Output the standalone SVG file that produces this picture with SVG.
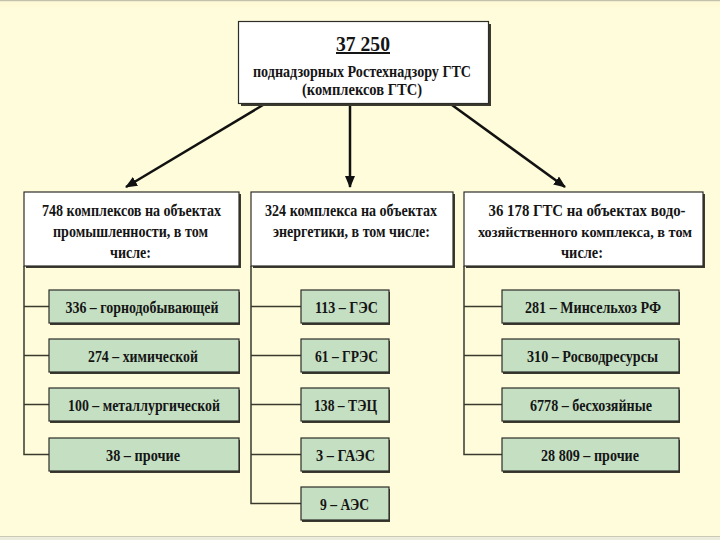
<svg xmlns="http://www.w3.org/2000/svg" width="720" height="540" viewBox="0 0 720 540">
<defs>
<marker id="ah" viewBox="0 0 12 10" refX="11" refY="5" markerWidth="12" markerHeight="10" markerUnits="userSpaceOnUse" orient="auto">
<path d="M0,0 L12,5 L0,10 z" fill="#111"/>
</marker>
</defs>
<style>
text{font-family:"Liberation Serif","Times New Roman",serif;font-weight:bold;fill:#151515;text-anchor:middle}
.hd{font-size:16.5px}
.gl{font-size:17px}
.shadow{fill:#3a3a30}
.wbox{fill:#ffffff;stroke:#2e2e28;stroke-width:1.2}
.gbox{fill:#c4dfc2;stroke:#2e2e28;stroke-width:1.2}
.conn{stroke:#3a3a2c;stroke-width:1.5;fill:none}
.arrow{stroke:#111;stroke-width:2.5;fill:none;marker-end:url(#ah)}
</style>
<rect x="0" y="0" width="720" height="540" fill="#fffcdc"/>
<rect x="0" y="0" width="720" height="1.5" fill="#c2c2ac"/>
<rect x="0" y="1.5" width="720" height="5" fill="#fffad6"/>
<rect x="0" y="536" width="720" height="1.2" fill="#c9c9b6"/>
<rect x="0" y="537.2" width="720" height="3" fill="#ececdc"/>

<g id="connectors">
<path class="arrow" d="M263,105 L126,187"/>
<path class="arrow" d="M350,105 L350,187"/>
<path class="arrow" d="M452,105 L565,187"/>
<path class="conn" d="M24,266 V454.5 H49 M24,306.5 H49 M24,355.5 H49 M24,404.5 H49"/>
<path class="conn" d="M251,266 V503.5 H301 M251,306.5 H301 M251,355.5 H301 M251,404.5 H301 M251,454.5 H301"/>
<path class="conn" d="M464,266 V454.5 H502 M464,306.5 H502 M464,355.5 H502 M464,404.5 H502"/>
</g>

<g id="top">
<rect class="shadow" x="241" y="24" width="250" height="82"/>
<rect class="wbox" x="238.5" y="21.5" width="250" height="82"/>
<text x="363" y="51" style="font-size:20px;text-decoration:underline" textLength="54" lengthAdjust="spacingAndGlyphs">37 250</text>
<text x="362" y="77" style="font-size:16px" textLength="218" lengthAdjust="spacingAndGlyphs">поднадзорных Ростехнадзору ГТС</text>
<text x="362" y="95" style="font-size:16px" textLength="120" lengthAdjust="spacingAndGlyphs">(комплексов ГТС)</text>
</g>

<g id="h-industry">
<rect class="shadow" x="26" y="194" width="215" height="74"/>
<rect class="wbox" x="24" y="192" width="215" height="74"/>
<text class="hd" x="131.5" y="216" textLength="179" lengthAdjust="spacingAndGlyphs">748 комплексов на объектах</text>
<text class="hd" x="130.5" y="237" textLength="155" lengthAdjust="spacingAndGlyphs">промышленности, в том</text>
<text class="hd" x="130.5" y="258" textLength="41" lengthAdjust="spacingAndGlyphs">числе:</text>
</g>

<g id="h-energy">
<rect class="shadow" x="253" y="194" width="202" height="74"/>
<rect class="wbox" x="251" y="192" width="202" height="74"/>
<text class="hd" x="351" y="216" textLength="172" lengthAdjust="spacingAndGlyphs">324 комплекса на объектах</text>
<text class="hd" x="351.5" y="237" textLength="157" lengthAdjust="spacingAndGlyphs">энергетики, в том числе:</text>
</g>

<g id="h-water">
<rect class="shadow" x="466" y="194" width="239" height="74"/>
<rect class="wbox" x="464" y="192" width="239" height="74"/>
<text class="hd" x="587" y="216" textLength="197" lengthAdjust="spacingAndGlyphs">36 178 ГТС на объектах водо-</text>
<text x="585" y="237" style="font-size:14.5px" textLength="214" lengthAdjust="spacingAndGlyphs">хозяйственного комплекса, в том</text>
<text class="hd" x="582" y="258" textLength="42" lengthAdjust="spacingAndGlyphs">числе:</text>
</g>

<g id="n-336">
<rect class="shadow" x="50" y="292" width="190" height="33"/>
<rect class="gbox" x="49" y="290" width="190" height="33"/>
<text class="gl" x="142" y="313" textLength="153" lengthAdjust="spacingAndGlyphs">336 – горнодобывающей</text>
</g>
<g id="n-274">
<rect class="shadow" x="50" y="341" width="190" height="33"/>
<rect class="gbox" x="49" y="339" width="190" height="33"/>
<text class="gl" x="143" y="362" textLength="110" lengthAdjust="spacingAndGlyphs">274 – химической</text>
</g>
<g id="n-100">
<rect class="shadow" x="50" y="390" width="190" height="33"/>
<rect class="gbox" x="49" y="388" width="190" height="33"/>
<text class="gl" x="144" y="411" textLength="152" lengthAdjust="spacingAndGlyphs">100 – металлургической</text>
</g>
<g id="n-38">
<rect class="shadow" x="50" y="440" width="190" height="33"/>
<rect class="gbox" x="49" y="438" width="190" height="33"/>
<text class="gl" x="143" y="461" textLength="74" lengthAdjust="spacingAndGlyphs">38 – прочие</text>
</g>

<g id="n-113">
<rect class="shadow" x="302" y="292" width="88" height="33"/>
<rect class="gbox" x="301" y="290" width="88" height="33"/>
<text class="gl" x="346.5" y="313" textLength="63" lengthAdjust="spacingAndGlyphs">113 – ГЭС</text>
</g>
<g id="n-61">
<rect class="shadow" x="302" y="341" width="88" height="33"/>
<rect class="gbox" x="301" y="339" width="88" height="33"/>
<text class="gl" x="346.5" y="362" textLength="63" lengthAdjust="spacingAndGlyphs">61 – ГРЭС</text>
</g>
<g id="n-138">
<rect class="shadow" x="302" y="390" width="88" height="33"/>
<rect class="gbox" x="301" y="388" width="88" height="33"/>
<text class="gl" x="345.5" y="411" textLength="63" lengthAdjust="spacingAndGlyphs">138 – ТЭЦ</text>
</g>
<g id="n-3">
<rect class="shadow" x="302" y="440" width="88" height="33"/>
<rect class="gbox" x="301" y="438" width="88" height="33"/>
<text class="gl" x="345.5" y="461" textLength="59" lengthAdjust="spacingAndGlyphs">3 – ГАЭС</text>
</g>
<g id="n-9">
<rect class="shadow" x="302" y="489" width="88" height="33"/>
<rect class="gbox" x="301" y="487" width="88" height="33"/>
<text class="gl" x="344.5" y="510" textLength="49" lengthAdjust="spacingAndGlyphs">9 – АЭС</text>
</g>

<g id="n-281">
<rect class="shadow" x="503" y="292" width="177" height="33"/>
<rect class="gbox" x="502" y="290" width="177" height="33"/>
<text class="gl" x="593" y="313" textLength="136" lengthAdjust="spacingAndGlyphs">281 – Минсельхоз РФ</text>
</g>
<g id="n-310">
<rect class="shadow" x="503" y="341" width="177" height="33"/>
<rect class="gbox" x="502" y="339" width="177" height="33"/>
<text class="gl" x="592.5" y="362" textLength="131" lengthAdjust="spacingAndGlyphs">310 – Росводресурсы</text>
</g>
<g id="n-6778">
<rect class="shadow" x="503" y="390" width="177" height="33"/>
<rect class="gbox" x="502" y="388" width="177" height="33"/>
<text class="gl" x="591" y="411" textLength="122" lengthAdjust="spacingAndGlyphs">6778 – бесхозяйные</text>
</g>
<g id="n-28809">
<rect class="shadow" x="503" y="440" width="177" height="33"/>
<rect class="gbox" x="502" y="438" width="177" height="33"/>
<text class="gl" x="590" y="461" textLength="98" lengthAdjust="spacingAndGlyphs">28 809 – прочие</text>
</g>
</svg>
